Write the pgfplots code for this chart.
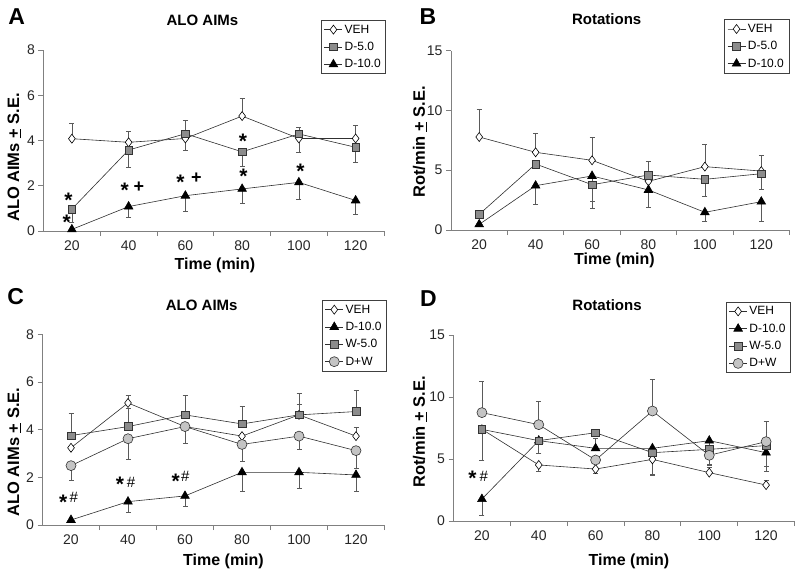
\documentclass[border=0pt]{standalone}
\usepackage{fontspec}
\setmainfont{Liberation Sans}
\usepackage{pgfplots}
\pgfplotsset{compat=1.18}

\definecolor{axgray}{HTML}{808080}
\definecolor{sqfill}{HTML}{8C8C8C}
\definecolor{cifill}{HTML}{C4C4C4}
\definecolor{ebar}{HTML}{5A5A5A}
\definecolor{ln}{HTML}{303030}

\pgfplotsset{
  panel/.style={
    scale only axis,
    xmin=10, xmax=130, ymin=0,
    axis x line*=bottom, axis y line*=left,
    axis line style={axgray, line width=0.8pt},
    xtick={20,40,...,120},
    minor xtick={30,50,...,130},
    major x tick style={draw=none},
    tick align=outside,
    major tick length=5pt, minor tick length=5pt,
    tick style={axgray, line width=0.8pt},
    tick label style={font=\fontsize{14}{16}\selectfont, text=black!85},
    xticklabel style={yshift=-1pt},
    /pgf/number format/assume math mode=true,
    clip=false,
    legend cell align=left,
    legend style={font=\fontsize{12}{13}\selectfont, draw=black!75, line width=0.6pt,
      anchor=north east, inner xsep=3pt, inner ysep=2.5pt, row sep=3.5pt},
    legend image code/.code={\draw[mark repeat=2, mark phase=2, #1]
      plot coordinates {(0pt,0pt) (9pt,0pt) (18pt,0pt)};},
  },
  eb/.style={error bars/y dir=both, error bars/y explicit,
    error bars/error bar style={ebar, line width=0.6pt},
    error bars/error mark options={rotate=90, mark size=2.5pt, ebar, line width=0.6pt}},
  veh/.style={eb, ln, line width=0.6pt, mark=diamond*,
    mark options={fill=white, draw=black, mark size=4.5pt, line width=0.6pt}},
  dten/.style={eb, ln, line width=0.6pt, mark=triangle*,
    mark options={fill=black, draw=black, mark size=5pt}},
  dfive/.style={eb, ln, line width=0.6pt, mark=square*,
    mark options={fill=sqfill, draw=black!80, mark size=3.8pt, line width=0.6pt}},
  dw/.style={eb, ln, line width=0.6pt, mark=*,
    mark options={fill=cifill, draw=black!80, mark size=5pt, line width=0.6pt}},
}
\tikzset{
  star/.style={font=\fontsize{21}{21}\selectfont\bfseries, anchor=base, yshift=-11.5pt, inner sep=0pt},
  plus/.style={font=\fontsize{18}{18}\selectfont\bfseries, anchor=base, yshift=-6.3pt, inner sep=0pt},
  hash/.style={font=\fontsize{15}{15}\selectfont, anchor=base, yshift=-5.2pt, inner sep=0pt},
  ttl/.style={font=\fontsize{15}{15}\selectfont\bfseries},
  lbl/.style={font=\fontsize{16}{16}\selectfont\bfseries},
  ylbl/.style={font=\fontsize{16.5}{16.5}\selectfont\bfseries, rotate=90},
  pan/.style={font=\fontsize{23}{23}\selectfont\bfseries},
}

\begin{document}
\begin{tikzpicture}
\useasboundingbox (0,0) rectangle (800pt,-572pt);

% ---------------- A
\begin{axis}[panel, at={(43.5pt,-231pt)}, anchor=south west,
  width=340.5pt, height=181pt, ymax=8, ytick={0,2,...,8},
  legend style={at={(1.006,1.166)}}]
\addplot[veh] coordinates {(20,4.08) += (0,0.68) -= (0,0) (40,3.92) += (0,0.50) -= (0,0)
  (60,4.09) += (0,0) -= (0,0.54) (80,5.08) += (0,0.78) -= (0,0)
  (100,4.09) += (0,0) -= (0,0.59) (120,4.09) += (0,0.56) -= (0,0)};
\addplot[dfive] coordinates {(20,0.97) += (0,0) -= (0,0.60) (40,3.58) += (0,0) -= (0,0.75)
  (60,4.30) += (0,0.59) -= (0,0) (80,3.50) += (0,0) -= (0,0.66)
  (100,4.29) += (0,0.30) -= (0,0) (120,3.70) += (0,0) -= (0,0.66)};
\addplot[dten] coordinates {(20,0.07) += (0,0) -= (0,0) (40,1.08) += (0,0) -= (0,0.49)
  (60,1.56) += (0,0) -= (0,0.68) (80,1.86) += (0,0) -= (0,0.65)
  (100,2.15) += (0,0) -= (0,0.74) (120,1.35) += (0,0) -= (0,0.63)};
\legend{VEH, D-5.0, D-10.0}
\node[star] at (axis cs:18.8,1.56) {*};
\node[star] at (axis cs:18.2,0.56) {*};
\node[star] at (axis cs:38.6,1.99) {*};
\node[plus] at (axis cs:43.6,1.99) {+};
\node[star] at (axis cs:58.3,2.36) {*};
\node[plus] at (axis cs:63.9,2.36) {+};
\node[star] at (axis cs:80.3,4.17) {*};
\node[star] at (axis cs:80.5,2.59) {*};
\node[star] at (axis cs:100.6,2.84) {*};
\end{axis}

% ---------------- B
\begin{axis}[panel, at={(451pt,-230pt)}, anchor=south west,
  width=338.5pt, height=179.3pt, ymax=15, ytick={0,5,10,15},
  legend style={at={(0.999,1.175)}}]
\addplot[veh] coordinates {(20,7.78) += (0,2.34) -= (0,0) (40,6.50) += (0,1.56) -= (0,0)
  (60,5.83) += (0,1.92) -= (0,0) (80,4.07) += (0,0) -= (0,0)
  (100,5.30) += (0,1.89) -= (0,0) (120,4.93) += (0,1.29) -= (0,0)};
\addplot[dfive] coordinates {(20,1.31) += (0,0) -= (0,0) (40,5.52) += (0,0) -= (0,0)
  (60,3.79) += (0,0) -= (0,1.39) (80,4.60) += (0,1.12) -= (0,0)
  (100,4.24) += (0,0) -= (0,1.42) (120,4.71) += (0,0) -= (0,1.28)};
\addplot[dten] coordinates {(20,0.47) += (0,0) -= (0,0) (40,3.71) += (0,0) -= (0,1.59)
  (60,4.52) += (0,0) -= (0,2.74) (80,3.35) += (0,0) -= (0,1.48)
  (100,1.48) += (0,0) -= (0,0.73) (120,2.37) += (0,0) -= (0,1.62)};
\legend{VEH, D-5.0, D-10.0}
\end{axis}

% ---------------- C
\begin{axis}[panel, at={(42.5pt,-525pt)}, anchor=south west,
  width=342pt, height=190.7pt, ymax=8, ytick={0,2,...,8},
  legend style={at={(1.007,1.18)}}]
\addplot[veh] coordinates {(20,3.24) += (0,0) -= (0,0) (40,5.12) += (0,0.32) -= (0,0)
  (60,4.13) += (0,0) -= (0,0) (80,3.73) += (0,0) -= (0,0)
  (100,4.62) += (0,0.45) -= (0,0) (120,3.73) += (0,0.37) -= (0,0)};
\addplot[dten] coordinates {(20,0.21) += (0,0) -= (0,0) (40,0.98) += (0,0) -= (0,0.45)
  (60,1.22) += (0,0) -= (0,0.44) (80,2.21) += (0,0) -= (0,0.81)
  (100,2.21) += (0,0) -= (0,0.67) (120,2.10) += (0,0) -= (0,0.70)};
\addplot[dfive] coordinates {(20,3.75) += (0,0.94) -= (0,0) (40,4.13) += (0,0.75) -= (0,0)
  (60,4.62) += (0,0.83) -= (0,0) (80,4.24) += (0,0.73) -= (0,0)
  (100,4.62) += (0,0.90) -= (0,0) (120,4.76) += (0,0.88) -= (0,0)};
\addplot[dw] coordinates {(20,2.49) += (0,0) -= (0,0.62) (40,3.62) += (0,0) -= (0,0.86)
  (60,4.13) += (0,0) -= (0,0.69) (80,3.38) += (0,0) -= (0,0.71)
  (100,3.73) += (0,0) -= (0,0.56) (120,3.12) += (0,0) -= (0,0.73)};
\legend{VEH, D-10.0, W-5.0, D+W}
\node[star] at (axis cs:17.3,1.15) {*};
\node[hash] at (axis cs:21.0,1.15) {\#};
\node[star] at (axis cs:37.2,1.89) {*};
\node[hash] at (axis cs:41.1,1.78) {\#};
\node[star] at (axis cs:56.7,2.03) {*};
\node[hash] at (axis cs:60.1,2.03) {\#};
\end{axis}

% ---------------- D
\begin{axis}[panel, at={(453.5pt,-521pt)}, anchor=south west,
  width=341pt, height=186pt, ymax=15, ytick={0,5,10,15},
  legend style={at={(0.989,1.179)}}]
\addplot[veh] coordinates {(20,7.40) += (0,0) -= (0,0) (40,4.52) += (0,0) -= (0,0.54)
  (60,4.19) += (0,0) -= (0,0.37) (80,4.97) += (0,0) -= (0,1.18)
  (100,3.90) += (0,0.40) -= (0,0) (120,2.90) += (0,0.40) -= (0,0)};
\addplot[dten] coordinates {(20,1.77) += (0,0) -= (0,1.29) (40,6.48) += (0,0) -= (0,0)
  (60,5.86) += (0,0.80) -= (0,0) (80,5.86) += (0,0) -= (0,0)
  (100,6.48) += (0,0) -= (0,2.00) (120,5.51) += (0,0) -= (0,1.50)};
\addplot[dfive] coordinates {(20,7.39) += (0,0) -= (0,2.47) (40,6.48) += (0,0) -= (0,1.00)
  (60,7.12) += (0,0) -= (0,0) (80,5.51) += (0,0) -= (0,1.80)
  (100,5.78) += (0,0) -= (0,1.30) (120,6.08) += (0,0) -= (0,1.70)};
\addplot[dw] coordinates {(20,8.74) += (0,2.50) -= (0,0) (40,7.77) += (0,1.85) -= (0,0)
  (60,4.92) += (0,0) -= (0,0) (80,8.87) += (0,2.58) -= (0,0)
  (100,5.30) += (0,0) -= (0,0.70) (120,6.40) += (0,1.61) -= (0,0)};
\legend{VEH, D-10.0, W-5.0, D+W}
\node[star] at (axis cs:16.7,3.79) {*};
\node[hash] at (axis cs:20.7,3.60) {\#};
\end{axis}

% titles, axis labels, panel letters
\node[pan] at (16.7pt,-17pt) {A};
\node[pan] at (428pt,-16.7pt) {B};
\node[pan] at (15.8pt,-297pt) {C};
\node[pan] at (428.3pt,-299pt) {D};
\node[ttl] at (202.5pt,-20pt) {ALO AIMs};
\node[ttl] at (606.7pt,-19.3pt) {Rotations};
\node[ttl] at (201.7pt,-305pt) {ALO AIMs};
\node[ttl] at (607pt,-305pt) {Rotations};
\node[lbl] at (215pt,-265pt) {Time (min)};
\node[lbl] at (614.5pt,-260.7pt) {Time (min)};
\node[lbl] at (223.5pt,-561pt) {Time (min)};
\node[lbl] at (629pt,-561pt) {Time (min)};
\node[ylbl] at (14.3pt,-157.5pt) {ALO AIMs \underline{+} S.E.};
\node[ylbl] at (420pt,-142pt) {Rot/min \underline{+} S.E.};
\node[ylbl] at (14.3pt,-452pt) {ALO AIMs \underline{+} S.E.};
\node[ylbl] at (420pt,-432pt) {Rot/min \underline{+} S.E.};
\end{tikzpicture}
\end{document}
